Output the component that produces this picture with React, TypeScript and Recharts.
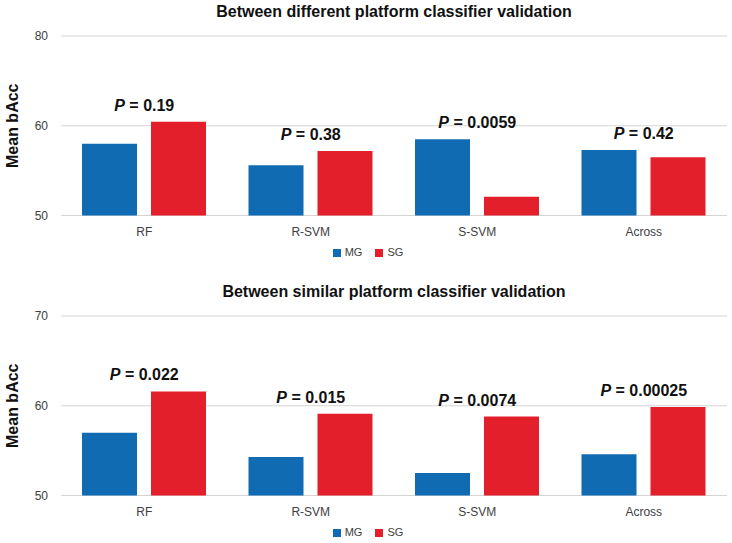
import React from "react";
import { ComposedChart, Bar, Scatter, XAxis, YAxis, CartesianGrid, Legend } from "recharts";

const categories = ["RF", "R-SVM", "S-SVM", "Across"];

const diffTitle = "Between different platform classifier validation";
const diffMG = [58.0, 55.6, 58.5, 57.3];
const diffSG = [60.45, 57.2, 52.1, 56.5];
const diffP = ["0.19", "0.38", "0.0059", "0.42"];
const diffYTickLabels = ["50", "60", "80"];

const simTitle = "Between similar platform classifier validation";
const simMG = [57.0, 54.3, 52.5, 54.6];
const simSG = [61.6, 59.1, 58.8, 59.85];
const simP = ["0.022", "0.015", "0.0074", "0.00025"];
const simYTickLabels = ["50", "60", "70"];

const yTicks = [50, 60, 70];

const BLUE = "#106bb3";
const RED = "#e21f2b";
const FONT = "'Liberation Sans', Arial, sans-serif";

function buildData(mg: number[], sg: number[], p: string[]) {
  return categories.map((c, i) => ({
    name: c,
    MG: mg[i],
    SG: sg[i],
    labelAt: Math.max(mg[i], sg[i]),
    p: p[i],
  }));
}

const PLabel = (props: any) => {
  const { cx, cy, payload } = props;
  if (cx == null || cy == null) return null;
  return (
    <text x={cx} y={cy - 11} textAnchor="middle" fontSize={16} fontWeight="bold" fill="#111" fontFamily={FONT}>
      <tspan fontStyle="italic">P</tspan>
      <tspan> = {payload.p}</tspan>
    </text>
  );
};

const YLabel = (props: any) => {
  const { viewBox } = props;
  const cy = viewBox.y + viewBox.height / 2;
  return (
    <text
      x={0}
      y={0}
      transform={`translate(18, ${cy}) rotate(-90)`}
      textAnchor="middle"
      fontSize={16}
      fontWeight="bold"
      fill="#111"
      fontFamily={FONT}
    >
      Mean bAcc
    </text>
  );
};

function Panel({ title, mg, sg, p, tickLabels }: any) {
  const data = buildData(mg, sg, p);
  return (
    <div style={{ position: "relative", width: 732, height: 280 }}>
      <div
        style={{
          position: "absolute",
          left: 61,
          width: 666,
          top: 3,
          textAlign: "center",
          fontFamily: FONT,
          fontWeight: "bold",
          fontSize: 16,
          color: "#111",
          lineHeight: "18px",
        }}
      >
        {title}
      </div>
      <ComposedChart
        width={732}
        height={280}
        data={data}
        margin={{ top: 36, right: 5, bottom: 10, left: 0 }}
        barGap={14}
        style={{ fontFamily: FONT }}
      >
        <CartesianGrid vertical={false} stroke="#d4d4d4" />
        <XAxis
          dataKey="name"
          height={30.5}
          axisLine={false}
          tickLine={false}
          tickMargin={6}
          tick={{ fontSize: 12, fill: "#404040" }}
        />
        <YAxis
          width={61}
          domain={[50, 70]}
          ticks={yTicks}
          axisLine={false}
          tickLine={false}
          tickMargin={7}
          tick={{ fontSize: 12, fill: "#404040" }}
          tickFormatter={(v: number) => tickLabels[yTicks.indexOf(v)]}
          label={<YLabel />}
        />
        <Legend
          verticalAlign="bottom"
          height={24}
          iconType="square"
          iconSize={8}
          wrapperStyle={{ fontSize: 11, left: 11 }}
          formatter={(value: string) => (
            <span style={{ color: "#404040", marginRight: 3 }}>{value}</span>
          )}
        />
        <Bar dataKey="MG" name="MG" fill={BLUE} barSize={55} isAnimationActive={false} />
        <Bar dataKey="SG" name="SG" fill={RED} barSize={55} isAnimationActive={false} />
        <Scatter dataKey="labelAt" legendType="none" shape={<PLabel />} isAnimationActive={false} />
      </ComposedChart>
    </div>
  );
}

export default function App() {
  return (
    <div style={{ position: "absolute", left: 0, top: 0, width: 732, height: 543, overflow: "hidden", background: "#fff" }}>
      <Panel title={diffTitle} mg={diffMG} sg={diffSG} p={diffP} tickLabels={diffYTickLabels} />
      <Panel title={simTitle} mg={simMG} sg={simSG} p={simP} tickLabels={simYTickLabels} />
    </div>
  );
}
